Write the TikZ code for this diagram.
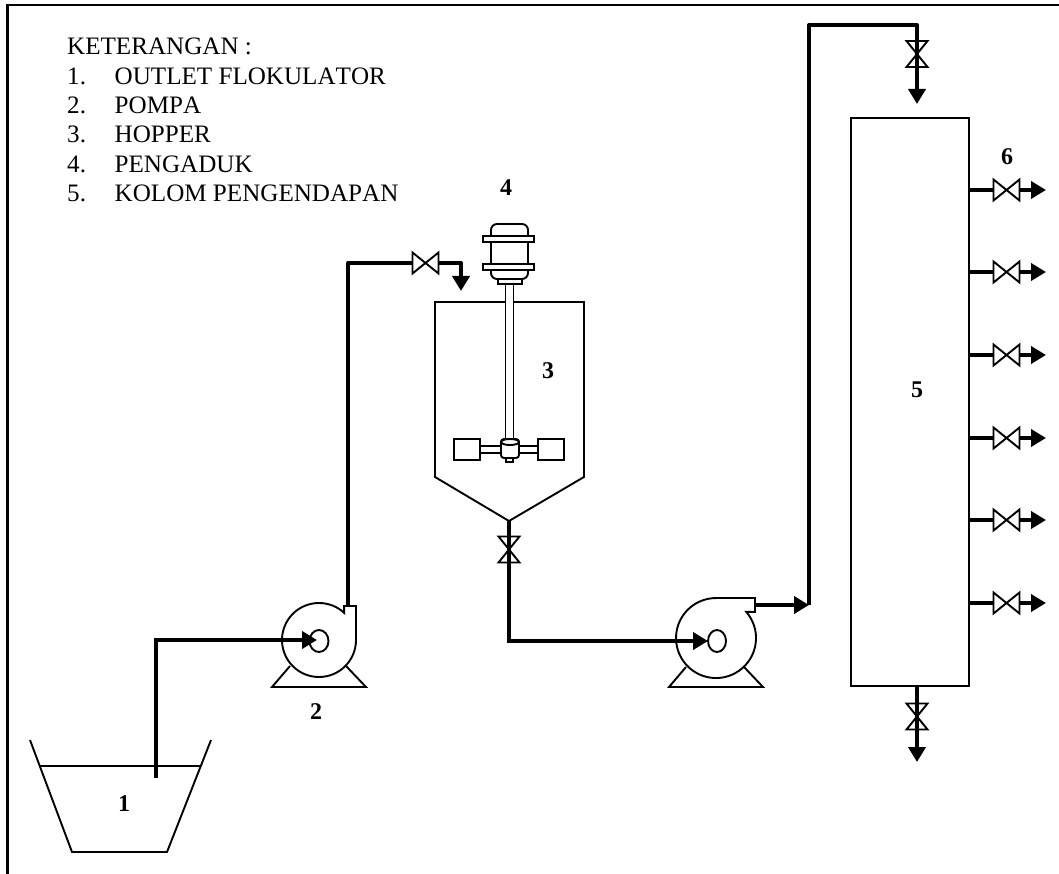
\documentclass[tikz,border=0pt]{standalone}
\usepackage{fontspec}
\setmainfont[Kerning=Off]{Liberation Serif}
\usetikzlibrary{arrows.meta,calc,shapes.geometric}
\tikzset{
  katup/.pic={
    \draw[line width=1.9pt, fill=white, line join=miter] (-13,-10.5) -- (13,10.5) -- (13,-10.5) -- (-13,10.5) -- cycle;
    \coordinate (-a) at (-13,0);
    \coordinate (-b) at (13,0);
  },
  pipa/.style={line width=4pt},
  pipaout/.style={pipa, -{Triangle[length=15pt,width=17pt]}},
  garis/.style={line width=1.9pt},
  alat/.style={garis, fill=white},
  bingkai/.style={line width=2.4pt},
  angka/.style={font=\fontsize{24}{24}\selectfont\bfseries, inner sep=0pt},
  teks/.style={font=\fontsize{25.1}{29}\selectfont, inner sep=0pt, anchor=base west}
}
\begin{document}
\begin{tikzpicture}[x=1pt, y=-1pt]
    \useasboundingbox (0,0) rectangle (1059,874);

    \coordinate (sudutbawah) at (7.5,874);
    \coordinate (sudut) at (7.5,5);
    \coordinate (sudutkanan) at (1059,5);
    \draw[bingkai] (sudutbawah) -- (sudut) -- (sudutkanan);

    \node[teks] (judul) at (67,55) {KETERANGAN :};
    \foreach \n/\isi in {1/OUTLET FLOKULATOR,2/POMPA,3/HOPPER,4/PENGADUK,5/KOLOM PENGENDAPAN}{
      \node[teks] (no\n) at (67,55+29.3*\n) {\n.};
      \node[teks] (ket\n) at (114.5,55+29.3*\n) {\isi};
    }

    \draw[garis] (30,740) -- (72,852) -- (167,852) -- (211,740);
    \coordinate (airkiri) at (40,766);
    \coordinate (airkanan) at (200,766);
    \draw[garis] (airkiri) -- (airkanan);
    \coordinate (hisap) at (156,778);

    \draw[alat] (356,606) -- (356,640) arc[start angle=0, end angle=313, radius=37] -- (344,606) -- cycle;
    \draw[garis] (290,666) -- (272,687) -- (366,687) -- (346,666);
    \node[draw, ellipse, garis, minimum width=19pt, minimum height=22pt, inner sep=0pt] (mata2) at (319,641) {};
    \coordinate (keluar2) at (348,606);

    \draw[alat] (746.2,611.8) arc[start angle=-41, end angle=270, radius=40] -- (755,598) -- (755,612) -- cycle;
    \draw[garis] (686,667) -- (669,687) -- (763,687) -- (744,667);
    \node[draw, ellipse, garis, minimum width=18pt, minimum height=22pt, inner sep=0pt] (mataB) at (717,641) {};
    \coordinate (keluarB) at (755,605);

    \draw[garis] (435,302) -- (584,302) -- (584,477) -- (509,521) -- (435,477) -- cycle;
    \coordinate (corong) at (509,521);

    \draw[alat, rounded corners=6pt] (491,224) rectangle (528,279);
    \draw[alat] (483,236) rectangle (534,242);
    \draw[alat] (483,264) rectangle (534,270);
    \draw[alat] (498,279) rectangle (522,284);
    \draw[alat] (505.5,284) rectangle (513.5,440);
    \draw[alat] (480,446) rectangle (538,453);
    \draw[alat] (454,439) rectangle (480,460);
    \draw[alat] (538,439) rectangle (564,460);
    \draw[alat] (506,456) rectangle (513,462);
    \draw[alat, rounded corners=3pt] (501,439) rectangle (519,458);
    \node[draw, ellipse, garis, minimum width=18pt, minimum height=6pt, inner sep=0pt] (hub) at (510,442) {};

    \node[draw, garis, minimum width=118pt, minimum height=568pt, inner sep=0pt] (kolom) at (910,402) {};

    \coordinate (belok1) at (156,640);
    \coordinate (masuk2) at (317,640);
    \coordinate (belok2) at (348,263);
    \coordinate (belok3) at (461,263);
    \coordinate (tiba3) at (461,291);
    \coordinate (belok4) at (509,641);
    \coordinate (masukB) at (708,641);
    \coordinate (cabang) at (809,605);
    \coordinate (atas1) at (809,25);
    \coordinate (atas2) at (917,25);
    \coordinate (tibakolom) at (917,104);
    \coordinate (buang) at (917,762);

    \pic (katup1) at (425.5,263) {katup};
    \pic[rotate=90] (katup2) at (509,549.5) {katup};
    \pic[rotate=90] (katup3) at (917,54) {katup};
    \pic[rotate=90] (katup4) at (917,716.5) {katup};

    \draw[pipaout] (hisap) -- (belok1) -- (masuk2);
    \draw[pipa, line join=round] (keluar2) -- (belok2) -- (katup1-a);
    \draw[pipaout, line join=round] (katup1-b) -- (belok3) -- (tiba3);
    \draw[pipa] (corong) -- (katup2-a);
    \draw[pipaout] (katup2-b) -- (belok4) -- (masukB);
    \draw[pipaout] (keluarB) -- (cabang);
    \draw[pipa, line join=round] (cabang) -- (atas1) -- (atas2) -- (katup3-a);
    \draw[pipaout] (katup3-b) -- (tibakolom);
    \draw[pipa] (kolom.south -| katup4-a) -- (katup4-a);
    \draw[pipaout] (katup4-b) -- (buang);

    \foreach \i/\yy in {1/190,2/272,3/355,4/438,5/520,6/603}{
      \pic (samping\i) at (1006.5,\yy) {katup};
      \coordinate (ujung\i) at (1046,\yy);
      \draw[pipa] (kolom.east |- samping\i-a) -- (samping\i-a);
      \draw[pipaout] (samping\i-b) -- (ujung\i);
    }

    \node[angka] (lab1) at (124,804) {1};
    \node[angka] (lab2) at (316,712) {2};
    \node[angka] (lab3) at (548,371) {3};
    \node[angka] (lab4) at (506,188) {4};
    \node[angka] (lab5) at (917,390) {5};
    \node[angka] (lab6) at (1007,157) {6};
\end{tikzpicture}
\end{document}
